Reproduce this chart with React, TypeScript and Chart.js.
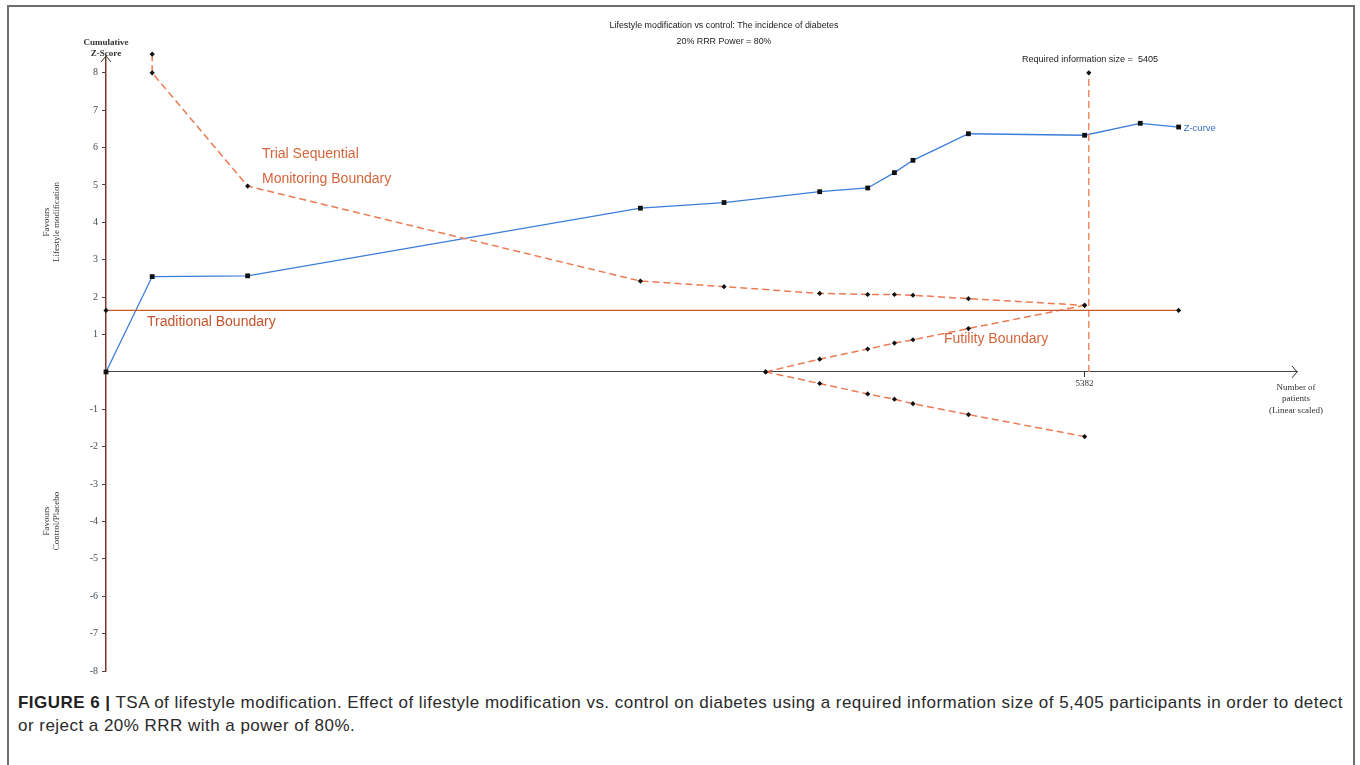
import React, { useEffect, useRef } from 'react';
import { Chart, registerables } from 'chart.js';
Chart.register(...registerables);

// Number of patients (x) and cumulative Z-scores (y)
const zX = [0, 254, 779, 2939, 3399, 3925, 4189, 4336, 4438, 4743, 5382, 5688, 5899];
const zY = [0, 2.55, 2.57, 4.38, 4.53, 4.82, 4.92, 5.33, 5.66, 6.37, 6.33, 6.65, 6.55];

const tsmbX = [254, 254, 779, 2939, 3399, 3925, 4189, 4336, 4438, 4743, 5382];
const tsmbY = [8.5, 8.0, 4.97, 2.43, 2.28, 2.1, 2.07, 2.07, 2.05, 1.96, 1.78];

const futX = [3628, 3925, 4189, 4336, 4438, 4743, 5382];
const futUpperY = [0, 0.34, 0.61, 0.77, 0.86, 1.16, 1.78];
const futLowerY = [0, -0.31, -0.59, -0.73, -0.85, -1.14, -1.73];

const tradX = [0, 5899];
const tradY = [1.645, 1.645];

const risX = [5405, 5405];
const risY = [0, 8];

const xTicks = [5382];
const yTicks = [-8, -7, -6, -5, -4, -3, -2, -1, 1, 2, 3, 4, 5, 6, 7, 8];

const captionLine1 =
  'TSA of lifestyle modification. Effect of lifestyle modification vs. control on diabetes using a required information size of 5,405 participants in order to detect';
const captionLine2 = 'or reject a 20% RRR with a power of 80%.';

const pts = (xs: number[], ys: number[]) => xs.map((x, i) => ({ x, y: ys[i] }));

export default function App() {
  const ref = useRef<HTMLCanvasElement>(null);
  const capRef = useRef<HTMLDivElement>(null);
  const line1Ref = useRef<HTMLDivElement>(null);

  useEffect(() => {
    // fit caption first line to the reference width
    const l1 = line1Ref.current;
    const cap = capRef.current;
    if (l1 && cap) {
      const w = l1.getBoundingClientRect().width;
      const n = captionLine1.length + 11;
      const ls = (1325 - w) / n;
      cap.style.letterSpacing = ls.toFixed(3) + 'px';
    }

    const canvas = ref.current!;
    const dash = '#ec7a52';
    const diamond = {
      pointStyle: 'rectRot',
      pointRadius: 2.6,
      pointBackgroundColor: '#111',
      pointBorderColor: '#111',
      pointBorderWidth: 0,
    };
    const annot = {
      id: 'annot',
      afterDraw(chart: any) {
        const ctx = chart.ctx as CanvasRenderingContext2D;
        const xs = chart.scales.x;
        const ys = chart.scales.y;
        ctx.save();
        // arrows
        ctx.strokeStyle = '#333';
        ctx.lineWidth = 1;
        const ax = xs.getPixelForValue(xs.max);
        const ay = ys.getPixelForValue(0);
        ctx.beginPath();
        ctx.moveTo(ax - 5, ay - 6);
        ctx.lineTo(ax, ay);
        ctx.lineTo(ax - 5, ay + 6);
        ctx.stroke();
        const bx = xs.getPixelForValue(0);
        const by = ys.getPixelForValue(ys.max);
        ctx.strokeStyle = '#3a3a3a';
        ctx.beginPath();
        ctx.moveTo(bx - 5, by + 6);
        ctx.lineTo(bx, by);
        ctx.lineTo(bx + 5, by + 6);
        ctx.stroke();

        ctx.textAlign = 'center';
        ctx.textBaseline = 'middle';
        ctx.fillStyle = '#222';
        ctx.font = '8.9px "Liberation Sans", Arial, sans-serif';
        ctx.fillText('Lifestyle modification vs control: The incidence of diabetes', 724, 26);
        ctx.fillText('20% RRR Power = 80%', 724, 42);
        ctx.font = '9.1px "Liberation Sans", Arial, sans-serif';
        ctx.fillText('Required information size =  5405', 1090, 59);

        ctx.font = 'bold 9px "Liberation Serif", serif';
        ctx.fillStyle = '#333';
        ctx.fillText('Cumulative', 106, 43);
        ctx.fillText('Z-Score', 106, 54);

        ctx.font = '9px "Liberation Serif", serif';
        ctx.fillText('Number of', 1296, 388);
        ctx.fillText('patients', 1296, 399);
        ctx.fillText('(Linear scaled)', 1296, 411);

        const vert = (text: string, x: number, y: number) => {
          ctx.save();
          ctx.translate(x, y);
          ctx.rotate(-Math.PI / 2);
          ctx.fillText(text, 0, 0);
          ctx.restore();
        };
        vert('Favours', 47, 222);
        vert('Lifestyle modification', 57, 222);
        vert('Favours', 47, 521);
        vert('Control/Placebo', 57, 521);

        ctx.textAlign = 'left';
        ctx.font = '14px "Liberation Sans", Arial, sans-serif';
        ctx.fillStyle = '#d4643a';
        ctx.fillText('Trial Sequential', 262, 154);
        ctx.fillText('Monitoring Boundary', 262, 179);
        ctx.fillStyle = '#c4552e';
        ctx.fillText('Traditional Boundary', 147, 322);
        ctx.fillStyle = '#d4643a';
        ctx.fillText('Futility Boundary', 944, 339);

        ctx.fillStyle = '#3a6fc4';
        ctx.font = '9.5px "Liberation Sans", Arial, sans-serif';
        const lx = xs.getPixelForValue(zX[zX.length - 1]);
        const ly = ys.getPixelForValue(zY[zY.length - 1]);
        ctx.fillText('Z-curve', lx + 5, ly + 1);
        ctx.restore();
      },
    };

    const chart = new Chart(canvas, {
      type: 'line',
      data: {
        datasets: [
          {
            data: pts(tradX, tradY),
            borderColor: '#c8582f',
            borderWidth: 1.3,
            ...diamond,
          } as any,
          {
            data: pts(tsmbX, tsmbY),
            borderColor: dash,
            borderWidth: 1.5,
            borderDash: [7, 4],
            ...diamond,
          } as any,
          {
            data: pts(futX, futUpperY),
            borderColor: dash,
            borderWidth: 1.5,
            borderDash: [7, 4],
            ...diamond,
          } as any,
          {
            data: pts(futX, futLowerY),
            borderColor: dash,
            borderWidth: 1.5,
            borderDash: [7, 4],
            ...diamond,
          } as any,
          {
            data: pts(risX, risY),
            borderColor: '#ee8c64',
            borderWidth: 1.5,
            borderDash: [7, 4],
            ...diamond,
            pointRadius: [0, 2.6],
          } as any,
          {
            data: pts(zX, zY),
            borderColor: '#3b7dd8',
            borderWidth: 1.3,
            pointStyle: 'rect',
            pointRadius: 3.4,
            pointBackgroundColor: '#111',
            pointBorderColor: '#111',
            pointBorderWidth: 0,
          } as any,
        ],
      },
      options: {
        animation: false,
        responsive: false,
        devicePixelRatio: 1,
        clip: false as any,
        layout: { padding: { left: 70, right: 63, top: 56, bottom: 19 } },
        plugins: { legend: { display: false }, tooltip: { enabled: false } },
        elements: { line: { tension: 0, fill: false } },
        scales: {
          x: {
            type: 'linear',
            min: 0,
            max: 6550,
            position: { y: 0 } as any,
            afterBuildTicks: (s: any) => {
              s.ticks = xTicks.map((v) => ({ value: v }));
            },
            grid: { drawOnChartArea: false, drawTicks: true, tickLength: 5, color: '#333' },
            border: { display: true, color: '#444', width: 1 },
            ticks: {
              font: { family: '"Liberation Serif", serif', size: 9 },
              color: '#333',
              padding: 1,
              maxRotation: 0,
              autoSkip: false,
              callback: (v: any) => String(v),
            },
          },
          y: {
            type: 'linear',
            min: -8,
            max: 8.45,
            afterFit: (s: any) => {
              s.width = 36;
            },
            afterBuildTicks: (s: any) => {
              s.ticks = yTicks.map((v) => ({ value: v }));
            },
            grid: { drawOnChartArea: false, drawTicks: true, tickLength: 4, color: '#3a4a50' },
            border: { display: true, color: '#7a3a2a', width: 1.5 },
            ticks: {
              font: { family: '"Liberation Serif", serif', size: 10 },
              color: '#3d4b56',
              padding: 4,
              autoSkip: false,
              callback: (v: any) => String(v),
            },
          },
        },
      },
      plugins: [annot],
    } as any);
    return () => chart.destroy();
  }, []);

  return (
    <div style={{ position: 'absolute', left: 0, top: 0, width: 1360, height: 765, overflow: 'hidden', background: '#fff' }}>
      <div
        style={{
          position: 'absolute',
          left: 7,
          top: 5,
          width: 1344,
          height: 800,
          border: '2px solid #6e6e6e',
        }}
      />
      <canvas ref={ref} width={1360} height={690} style={{ position: 'absolute', left: 0, top: 0, width: 1360, height: 690 }} />
      <div
        ref={capRef}
        style={{
          position: 'absolute',
          left: 18,
          top: 691,
          fontFamily: '"Liberation Sans", Arial, sans-serif',
          fontSize: 17,
          lineHeight: '23px',
          color: '#2a2a2a',
          whiteSpace: 'nowrap',
        }}
      >
        <div ref={line1Ref} style={{ display: 'inline-block' }}>
          <b style={{ color: '#222' }}>FIGURE 6 |</b> {captionLine1}
        </div>
        <div>{captionLine2}</div>
      </div>
    </div>
  );
}
